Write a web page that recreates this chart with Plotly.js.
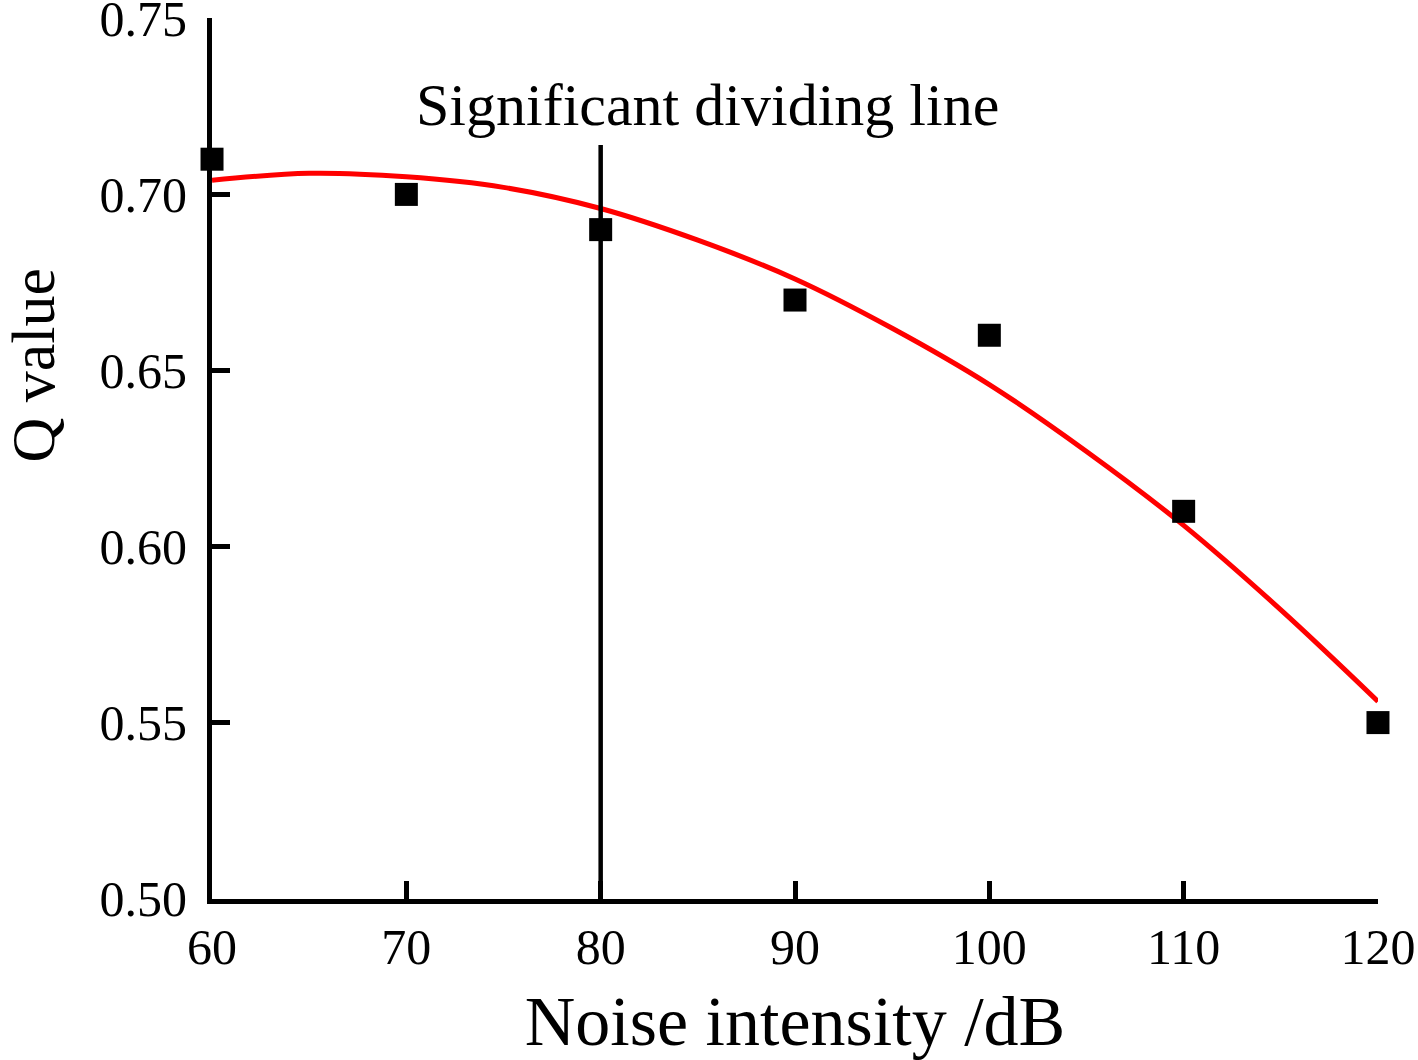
<!DOCTYPE html>
<html>
<head>
<meta charset="utf-8">
<script src="https://cdn.plot.ly/plotly-3.0.1.min.js"></script>
<style>
  html, body { margin: 0; padding: 0; background: #fff; }
  #chart { width: 1418px; height: 1060px; }
</style>
</head>
<body>
<div id="chart"></div>
<script>
// Measured points: Q value against noise intensity
const noiseDb = [60, 70, 80, 90, 100, 110, 120];
const qValue = [0.71, 0.70, 0.69, 0.67, 0.66, 0.61, 0.55];

// Red fitted curve, every 5 dB
const fitDb = [60, 65, 70, 75, 80, 85, 90, 95, 100, 105, 110, 115, 120];
const fitQ = [0.704, 0.706, 0.705, 0.702, 0.696, 0.687, 0.676, 0.662, 0.646, 0.627, 0.606, 0.582, 0.556];

// Vertical "significant dividing line"
const dividerDb = [80, 80];
const dividerQ = [0.50, 0.714];

const xTicks = [60, 70, 80, 90, 100, 110, 120];
const yTicks = [0.50, 0.55, 0.60, 0.65, 0.70, 0.75];

const FONT = 'Liberation Serif, Times New Roman, serif';

const fitTrace = {
    x: fitDb,
    y: fitQ,
    type: 'scatter',
    mode: 'lines',
    line: { color: '#ff0000', width: 5, shape: 'spline' },
    hoverinfo: 'skip'
};

const dividerTrace = {
    x: dividerDb,
    y: dividerQ,
    type: 'scatter',
    mode: 'lines',
    line: { color: '#000000', width: 4.5 },
    hoverinfo: 'skip'
};

const pointTrace = {
    x: noiseDb,
    y: qValue,
    type: 'scatter',
    mode: 'markers',
    marker: { symbol: 'square', size: 23, color: '#000000' },
    cliponaxis: false
};

const layout = {
    width: 1418,
    height: 1060,
    margin: { l: 212, r: 40, t: 18, b: 161 },
    paper_bgcolor: '#ffffff',
    plot_bgcolor: '#ffffff',
    showlegend: false,
    font: { family: FONT, color: '#000000', size: 50 },
    xaxis: {
        range: [59.999, 120.001],
        tickvals: xTicks,
        ticktext: xTicks.map(String),
        ticks: 'inside',
        ticklen: 18,
        tickwidth: 5,
        tickcolor: '#000000',
        showline: true,
        linewidth: 5,
        linecolor: '#000000',
        showgrid: false,
        zeroline: false,
        ticklabeloverflow: 'allow',
        tickfont: { family: FONT, size: 50 },
        title: { text: 'Noise intensity /dB', font: { family: FONT, size: 70 }, standoff: 34 }
    },
    yaxis: {
        range: [0.4999, 0.7501],
        tickvals: yTicks,
        ticktext: yTicks.map(v => v.toFixed(2)),
        ticks: 'inside',
        ticklen: 18,
        tickwidth: 5,
        tickcolor: '#000000',
        showline: true,
        linewidth: 5,
        linecolor: '#000000',
        showgrid: false,
        zeroline: false,
        ticklabelstandoff: 10,
        ticklabeloverflow: 'allow',
        tickfont: { family: FONT, size: 50 }
    },
    annotations: [{
        x: 85.5,
        y: 0.7253,
        xref: 'x',
        yref: 'y',
        text: 'Significant dividing line',
        showarrow: false,
        font: { family: FONT, size: 60, color: '#000000' }
    }, {
        // y-axis title sits above the axis centre in the reference
        x: -0.184,
        y: 0.606,
        xref: 'paper',
        yref: 'paper',
        text: 'Q value',
        textangle: -90,
        showarrow: false,
        font: { family: FONT, size: 62, color: '#000000' }
    }]
};

Plotly.newPlot('chart', [fitTrace, dividerTrace, pointTrace], layout, { displayModeBar: false, staticPlot: true });
</script>
</body>
</html>
